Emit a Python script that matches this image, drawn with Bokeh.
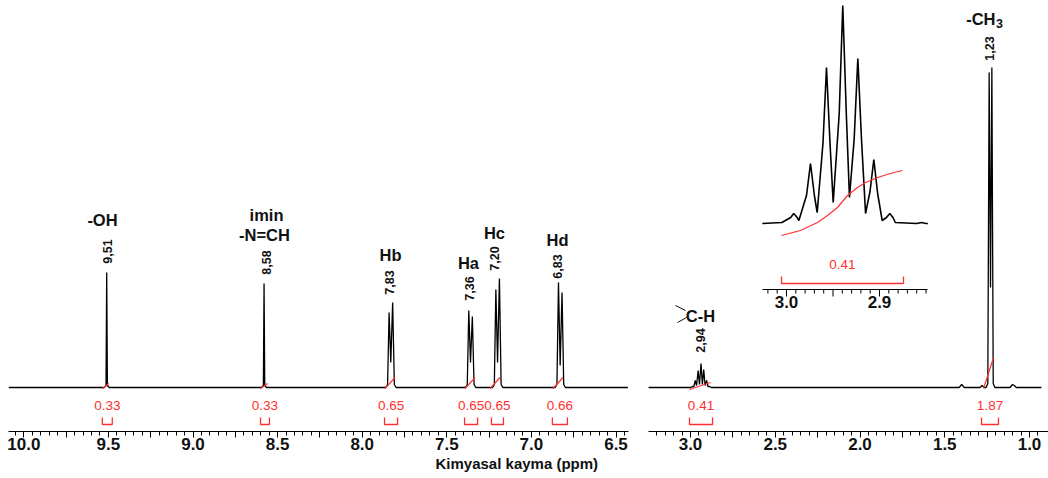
from bokeh.plotting import figure
from bokeh.layouts import row
from bokeh.models import Range1d, FixedTicker, CustomJSTickFormatter, Title
from bokeh.core.properties import value
from bokeh.embed import file_html
from bokeh.resources import INLINE

FONT = value("Liberation Sans")
RED = "#ff3030"
INK = "#111111"

# ---------------- data ----------------
# left spectrum segment: chemical shift (ppm) / intensity (a.u.)
left_ppm = [10.09, 9.525, 9.514, 9.510, 9.506, 9.495,
            8.595, 8.584, 8.580, 8.576, 8.565,
            7.860, 7.850, 7.841, 7.831, 7.820, 7.810, 7.800,
            7.389, 7.379, 7.370, 7.360, 7.349, 7.339, 7.329,
            7.229, 7.219, 7.210, 7.200, 7.189, 7.179, 7.169,
            6.859, 6.849, 6.840, 6.830, 6.819, 6.809, 6.799, 6.43]
left_int = [0, 0, 2, 115, 2, 0,
            0, 2, 104, 2, 0,
            0, 3, 75, 25, 85, 3, 0,
            0, 3, 77, 25, 71, 3, 0,
            0, 3, 98, 25, 109, 3, 0,
            0, 3, 105, 22, 95, 3, 0, 0]

# right spectrum segment
right_ppm = [3.25, 2.998, 2.988, 2.980, 2.972, 2.964, 2.955, 2.947, 2.938, 2.930,
             2.922, 2.914, 2.905, 2.897, 2.888, 2.878,
             1.415, 1.400, 1.385, 1.292, 1.280, 1.268,
             1.256, 1.246, 1.238, 1.230, 1.222, 1.214, 1.204,
             1.115, 1.100, 1.090, 1.078, 0.93]
right_int = [0, 0, 1, 1, 7, 2, 17, 3, 24, 3,
             18, 2, 7, 1, 1, 0,
             0, 3, 0, 0, 2, 0,
             0, 4, 315, 100, 320, 4, 0,
             0, 3, 2, 0, 0]

# inset: expanded septet at 2.94 ppm
inset_ppm = [3.026, 3.005, 2.9955, 2.9922, 2.9885, 2.9867, 2.9785, 2.9742, 2.9700, 2.967,
             2.9608, 2.957, 2.9532, 2.9498, 2.9433, 2.9395, 2.9357, 2.9323, 2.9272, 2.9233,
             2.9194, 2.915, 2.9102, 2.9061, 2.9020, 2.8971, 2.8925, 2.8889, 2.8855, 2.883,
             2.860, 2.855, 2.850, 2.848]
inset_int = [0, 1, 6, 10, 6, 3, 28, 60, 28, 11,
             80, 156, 80, 21, 110, 218, 110, 26, 85, 165,
             85, 10, 32, 64, 30, 3, 6, 10, 6, 1,
             0, 1, 0, 0]
inset_integral_ppm = [3.0054, 2.985, 2.9667, 2.9559, 2.9452, 2.9344, 2.9237, 2.9151, 2.9022, 2.8882, 2.8753]
inset_integral_val = [-12, -7, 1, 8, 16, 28, 36, 41, 46, 50, 53]
inset_integral_range = [3.0054, 2.8742]
inset_integral_label = "0.41"

# integrals
int_left_labels = ["0.33", "0.33", "0.65", "0.65", "0.65", "0.66"]
int_left_from = [9.536, 8.601, 7.868, 7.395, 7.236, 6.876]
int_left_to = [9.477, 8.548, 7.791, 7.318, 7.165, 6.787]
int_left_curve_from = [9.534, 8.601, 7.865, 7.392, 7.244, 6.872]
int_left_curve_to = [9.498, 8.560, 7.806, 7.333, 7.185, 6.813]
int_left_curve_y0 = [-1, -1, -1, -1, -1, -1]
int_left_curve_y1 = [4, 4, 10, 10, 10, 10]

int_right_labels = ["0.41", "1.87"]
int_right_from = [3.006, 1.283]
int_right_to = [2.870, 1.183]
int_right_curve_from = [3.006, 1.271]
int_right_curve_to = [2.882, 1.212]
int_right_curve_y0 = [-2, -1]
int_right_curve_y1 = [5, 30]

# peak annotations
left_shift_labels = ["9,51", "8,58", "7,83", "7,36", "7,20", "6,83"]
left_group_labels = [["-OH"], ["imin", "-N=CH"], ["Hb"], ["Ha"], ["Hc"], ["Hd"]]
right_shift_labels = ["2,94", "1,23"]

inset_ticks_major = [3.0, 2.95, 2.9]
inset_tick_labels = ["3.0", "2.9"]

axis_title = "Kimyasal kayma (ppm)"


# ---------------- layout helpers (reference pixel -> data) ----------------
def lx(x):
    return 10.0 - (x - 23.3) / 169.2


def rx(x):
    return 3.0 - (x - 690.0) / 169.5


def my(y):
    return 387.0 - y


def ix(x):
    return 3.0 - (x - 786.0) / 930.0


def iy(y):
    return 223.0 - y


def text(p, xs, ys, ts, size, color=INK, bold=True, angle=0.0, align="center",
         baseline="middle", **kw):
    p.text(x=xs, y=ys, text=ts, text_font=FONT, text_font_size=value(size),
           text_font_style="bold" if bold else "normal", text_color=color,
           angle=angle, text_align=align, text_baseline=baseline, **kw)


def make_fig(xr, width, ml, mr, majors, minors):
    p = figure(width=width, height=478, x_range=xr, y_range=Range1d(my(431), my(0)),
               output_backend="svg", toolbar_location=None, y_axis_location=None,
               min_border_left=ml, min_border_right=mr, min_border_top=0,
               min_border_bottom=47)
    p.outline_line_color = None
    p.xgrid.visible = False
    p.ygrid.visible = False
    p.background_fill_color = "white"
    p.border_fill_color = "white"
    ax = p.xaxis[0]
    ax.ticker = FixedTicker(ticks=majors, minor_ticks=minors)
    ax.formatter = CustomJSTickFormatter(
        code="return Math.abs(tick*2 - Math.round(tick*2)) < 1e-6 ? tick.toFixed(1) : '';")
    ax.axis_line_color = "black"
    ax.axis_line_width = 1
    ax.major_tick_in = 0
    ax.major_tick_out = 6
    ax.minor_tick_in = 0
    ax.minor_tick_out = 4
    ax.major_tick_line_color = "black"
    ax.minor_tick_line_color = "black"
    ax.major_label_standoff = 0
    ax.major_label_text_font = "Liberation Sans"
    ax.major_label_text_font_style = "bold"
    ax.major_label_text_font_size = "17px"
    ax.major_label_text_color = INK
    return p


def draw_integrals(p, labels, b_from, b_to, c_from, c_to, c_y0, c_y1):
    p.segment(x0=c_from, y0=c_y0, x1=c_to, y1=c_y1, line_color=RED, line_width=1.2)
    xs = [[a, a, b, b] for a, b in zip(b_from, b_to)]
    ys = [[my(417), my(424), my(424), my(417)] for _ in b_from]
    p.multi_line(xs=xs, ys=ys, line_color=RED, line_width=1.3)
    centers = [(a + b) / 2 for a, b in zip(b_from, b_to)]
    text(p, centers, [my(405)] * len(centers), labels, "13.5px", color=RED, bold=False)


# ---------------- left panel ----------------
left_majors = [round(10.0 - 0.25 * i, 2) for i in range(15)]
left_minors = [round(10.05 - 0.05 * i, 2) for i in range(73)]
p1 = make_fig(Range1d(lx(8), lx(628)), 638, 8, 10, left_majors, left_minors)
p1.line(left_ppm, left_int, line_color="black", line_width=1.3)
draw_integrals(p1, int_left_labels, int_left_from, int_left_to,
               int_left_curve_from, int_left_curve_to, int_left_curve_y0, int_left_curve_y1)

shift_x = [lx(107), lx(266), lx(389), lx(469), lx(494), lx(557)]
shift_y = [my(251), my(262), my(282), my(288), my(258), my(266)]
text(p1, shift_x, shift_y, left_shift_labels, "12.5px", angle=1.5708)

name_pos = [[(lx(102), my(219))],
            [(lx(266), my(214)), (lx(264), my(234))],
            [(lx(390), my(254))],
            [(lx(468), my(262))],
            [(lx(494), my(232))],
            [(lx(557), my(239))]]
nx, ny, nt = [], [], []
for names, poss in zip(left_group_labels, name_pos):
    for n, (x, y) in zip(names, poss):
        nx.append(x)
        ny.append(y)
        nt.append(n)
text(p1, nx, ny, nt, "16.5px")

p1.add_layout(Title(text=axis_title, align="left", offset=427, standoff=0,
                    text_font="Liberation Sans", text_font_size="15px",
                    text_font_style="bold", text_color=INK), "below")

# ---------------- right panel ----------------
right_majors = [round(3.0 - 0.25 * i, 2) for i in range(9)]
right_minors = [round(3.2 - 0.05 * i, 2) for i in range(46)]
p2 = make_fig(Range1d(rx(648), rx(1048)), 410, 10, 0, right_majors, right_minors)
p2.line(right_ppm, right_int, line_color="black", line_width=1.3)
draw_integrals(p2, int_right_labels, int_right_from, int_right_to,
               int_right_curve_from, int_right_curve_to, int_right_curve_y0, int_right_curve_y1)

text(p2, [rx(700), rx(989)], [my(340), my(48)], right_shift_labels, "12.5px", angle=1.5708)
text(p2, [rx(700)], [my(315)], ["C-H"], "16.5px")
p2.segment(x0=[rx(675), rx(677)], y0=[my(305), my(322)], x1=[rx(685), rx(686)],
           y1=[my(310), my(317)], line_color=INK, line_width=1)
text(p2, [rx(995)], [my(18)], ["-CH"], "16.5px", align="right")
text(p2, [rx(995.5)], [my(23)], ["3"], "12.5px", align="left")

# inset on its own ranges
p2.extra_x_ranges = {"ix": Range1d(ix(648), ix(1048))}
p2.extra_y_ranges = {"iy": Range1d(iy(431), iy(0))}
p2.line(inset_ppm, inset_int, line_color="black", line_width=1.6,
        x_range_name="ix", y_range_name="iy")
p2.line(inset_integral_ppm, inset_integral_val, line_color=RED, line_width=1.2,
        x_range_name="ix", y_range_name="iy")
p2.segment(x0=[ix(762)], y0=[iy(289)], x1=[ix(927)], y1=[iy(289)], line_color="black",
           line_width=1, x_range_name="ix", y_range_name="iy")
itk = [round(3.02 - 0.01 * i, 2) for i in range(18)]
itk_len = [iy(296) if t in inset_ticks_major else iy(293) for t in itk]
p2.segment(x0=itk, y0=[iy(289)] * len(itk), x1=itk, y1=itk_len, line_color="black",
           line_width=1, x_range_name="ix", y_range_name="iy")
text(p2, [3.0, 2.9], [iy(301), iy(301)], inset_tick_labels, "17px",
     x_range_name="ix", y_range_name="iy")
a, b = inset_integral_range
p2.multi_line(xs=[[a, a, b, b]], ys=[[iy(276), iy(283), iy(283), iy(276)]], line_color=RED,
              line_width=1.3, x_range_name="ix", y_range_name="iy")
text(p2, [(a + b) / 2], [iy(264)], [inset_integral_label], "13.5px", color=RED, bold=False,
     x_range_name="ix", y_range_name="iy")

layout = row(p1, p2)
open("out.html", "w").write(file_html(layout, INLINE))
